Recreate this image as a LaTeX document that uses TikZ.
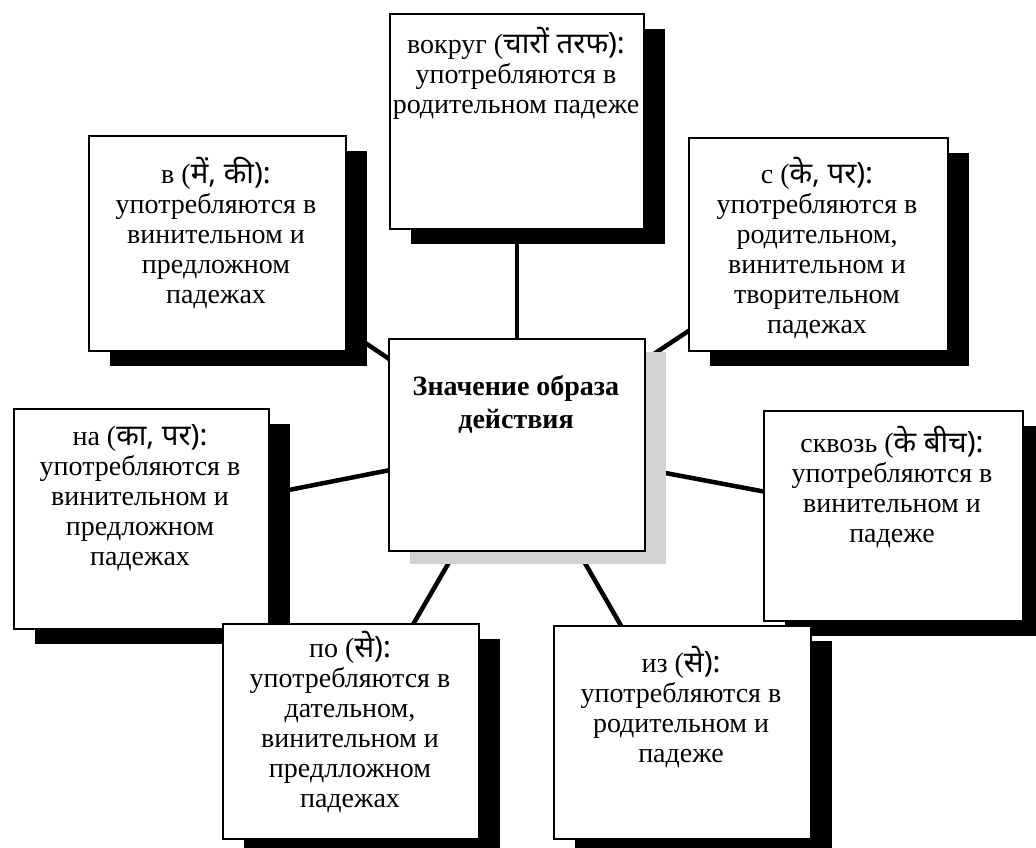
\documentclass[tikz,border=0pt]{standalone}
\usepackage{fontspec}
\setmainfont{Liberation Serif}
\newfontfamily\dev[Script=Devanagari,Scale=1.05]{Noto Sans}
\usetikzlibrary{shadows,backgrounds}
\setlength{\tabcolsep}{0pt}
\tikzset{
  box/.style={draw, line width=2pt, fill=white, anchor=north west, inner sep=0pt,
    general shadow={fill=black, shadow xshift=21pt, shadow yshift=-15pt}},
  ctrbox/.style={draw, line width=2pt, fill=white, anchor=north west, inner sep=0pt,
    general shadow={fill=gray!35, shadow xshift=21pt, shadow yshift=-13pt}},
  txt/.style={anchor=base, inner sep=0pt, font=\fontsize{28}{30}\selectfont},
  link/.style={line width=4.5pt}
}
\begin{document}
\begin{tikzpicture}[x=1pt,y=-1pt]
\useasboundingbox (0,0) rectangle (1036,847);
\clip (0,0) rectangle (1036,847);
% boxes
\node[box, minimum width=254pt, minimum height=215pt] (top) at (389,13) {};
\node[box, minimum width=257pt, minimum height=215pt] (vb) at (88,135) {};
\node[box, minimum width=259pt, minimum height=213pt] (sb) at (688,137) {};
\node[box, minimum width=255pt, minimum height=220pt] (nab) at (13,408) {};
\node[box, minimum width=259pt, minimum height=210pt] (skb) at (763,410) {};
\node[ctrbox, minimum width=256pt, minimum height=212pt] (ctr) at (388,338) {};
\node[box, minimum width=256pt, minimum height=215pt] (pob) at (222,623) {};
\node[box, minimum width=257pt, minimum height=213pt] (izb) at (553,625) {};
% texts
\node[txt] (ttop) at (516,53) {\begin{tabular}[t]{c}вокруг (\dev{चारों तरफ}):\\ употребляются в\\ родительном падеже\end{tabular}};
\node[txt] (tvb) at (216,183) {\begin{tabular}[t]{c}в (\dev{में, की}):\\ употребляются в\\ винительном и\\ предложном\\ падежах\end{tabular}};
\node[txt] (tsb) at (817,183) {\begin{tabular}[t]{c}с (\dev{के, पर}):\\ употребляются в\\ родительном,\\ винительном и\\ творительном\\ падежах\end{tabular}};
\node[txt, font=\fontsize{28}{33}\selectfont\bfseries] (tctr) at (516,395) {\begin{tabular}[t]{c}Значение образа\\ действия\end{tabular}};
\node[txt] (tnab) at (140,445) {\begin{tabular}[t]{c}на (\dev{का, पर}):\\ употребляются в\\ винительном и\\ предложном\\ падежах\end{tabular}};
\node[txt] (tskb) at (892,452) {\begin{tabular}[t]{c}сквозь (\dev{के बीच}):\\ употребляются в\\ винительном и\\ падеже\end{tabular}};
\node[txt] (tpob) at (350,657) {\begin{tabular}[t]{c}по (\dev{से}):\\ употребляются в\\ дательном,\\ винительном и\\ предлложном\\ падежах\end{tabular}};
\node[txt] (tizb) at (681,672) {\begin{tabular}[t]{c}из (\dev{से}):\\ употребляются в\\ родительном и\\ падеже\end{tabular}};
% connectors
\begin{pgfonlayer}{background}
\draw[link] (ctr.center) -- (top.center);
\draw[link] (ctr.center) -- (vb.center);
\draw[link] (ctr.center) -- (sb.center);
\draw[link] (ctr.center) -- (nab.center);
\draw[link] (ctr.center) -- (skb.center);
\draw[link] (ctr.center) -- (pob.center);
\draw[link] (ctr.center) -- (izb.center);
\end{pgfonlayer}
\end{tikzpicture}
\end{document}
